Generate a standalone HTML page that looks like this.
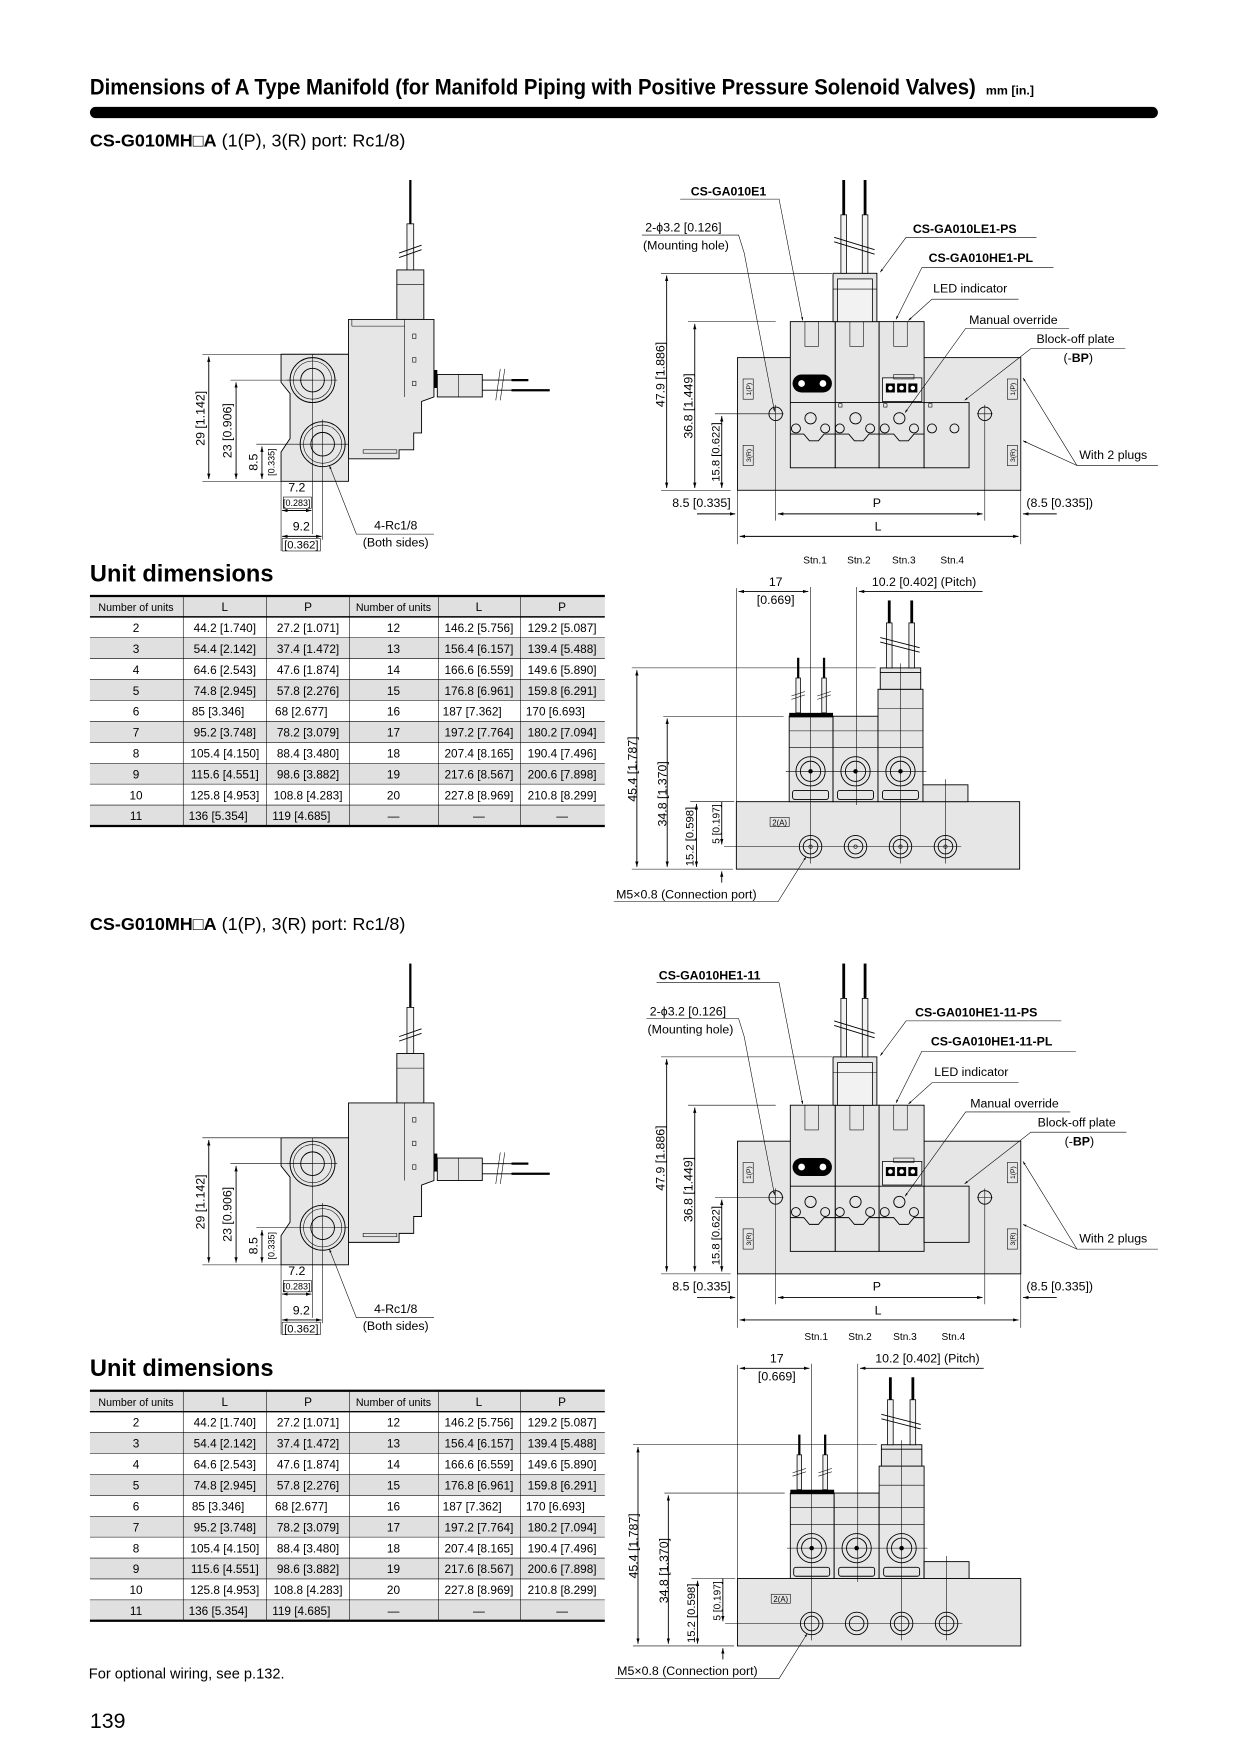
<!DOCTYPE html>
<html><head><meta charset="utf-8"><style>
html,body{margin:0;padding:0;background:#fff;}
svg{display:block;}
text{font-family:"Liberation Sans",sans-serif;fill:#000;}
.n{font-family:"Liberation Sans Narrow","Liberation Sans",sans-serif;}
.l{font-size:11px;}
.b{font-weight:bold;}
.ln{stroke:#000;stroke-width:0.8;fill:none;}
.th{stroke:#000;stroke-width:0.5;fill:none;}
.body{fill:#e6e6e6;stroke:#000;stroke-width:0.8;}
.wh{fill:#f2f2f2;stroke:#000;stroke-width:0.7;}
</style></head><body>
<svg width="1240" height="1754" viewBox="0 0 1103 1560" xmlns="http://www.w3.org/2000/svg">
<defs>
<marker id="a" viewBox="0 0 10 10" refX="10" refY="5" markerWidth="6" markerHeight="6" orient="auto-start-reverse"><path d="M0,2 L10,5 L0,8 z" fill="#000"/></marker>
</defs>

<text x="80" y="84" class="n b" font-size="20" textLength="788" lengthAdjust="spacingAndGlyphs">Dimensions of A Type Manifold (for Manifold Piping with Positive Pressure Solenoid Valves)</text>
<text x="877" y="84" class="n b" font-size="11">mm [in.]</text>
<rect x="80" y="95" width="950" height="10" rx="5" fill="#000"/>

<g id="top">
<text x="80" y="130" font-size="16"><tspan class="b">CS-G010MH</tspan><tspan class="b">□A</tspan> (1(P), 3(R) port: Rc1/8)</text>

<g>
<line x1="365" y1="160" x2="365" y2="199" stroke="#000" stroke-width="2"/>
<rect x="362" y="199" width="6" height="41" class="wh"/>
<line x1="355" y1="225" x2="375" y2="218" class="ln"/><line x1="355" y1="229" x2="375" y2="222" class="ln"/>
<rect x="353" y="240" width="24" height="44" class="body"/>
<line x1="353" y1="253" x2="377" y2="253" class="th"/>
<polygon points="310,284 386,284 386,353 375,357 375,385 368,385 368,400 355,400 355,408 310,408" class="body"/>
<line x1="313" y1="284" x2="313" y2="290" class="th"/><line x1="313" y1="290" x2="360" y2="290" class="th"/>
<line x1="360" y1="284" x2="360" y2="353" class="th"/>
<rect x="367" y="297" width="3" height="4" class="th"/><rect x="367" y="318" width="3" height="4" class="th"/><rect x="367" y="339" width="3" height="4" class="th"/>
<rect x="323" y="400" width="30" height="3" class="th"/>
<polygon points="250,315 310,315 310,428 250,428 250,402 258,390 258,350 250,340" class="body"/>
<circle cx="278" cy="338" r="20" class="ln"/><circle cx="278" cy="338" r="17" class="th"/><circle cx="278" cy="338" r="10.5" class="ln"/>
<circle cx="287" cy="395" r="20" class="ln"/><circle cx="287" cy="395" r="17" class="th"/><circle cx="287" cy="395" r="10.5" class="ln"/>
<line x1="255" y1="338" x2="300" y2="338" class="th"/><line x1="278" y1="315" x2="278" y2="475" class="th"/>
<line x1="262" y1="395" x2="310" y2="395" class="th"/><line x1="287" y1="373" x2="287" y2="480" class="th"/>
<rect x="386" y="329" width="3" height="16" fill="#000"/>
<rect x="389" y="333" width="40" height="20" class="body"/>
<line x1="408" y1="333" x2="408" y2="353" class="th"/>
<line x1="429" y1="338" x2="455" y2="338" class="ln"/><line x1="429" y1="347" x2="455" y2="347" class="ln"/>
<line x1="455" y1="338" x2="470" y2="338" stroke="#000" stroke-width="2"/><line x1="455" y1="347" x2="489" y2="347" stroke="#000" stroke-width="2"/>
<line x1="445" y1="328" x2="441" y2="356" class="th"/><line x1="449" y1="328" x2="445" y2="356" class="th"/>
<line x1="180" y1="315" x2="250" y2="315" class="th"/><line x1="180" y1="428" x2="250" y2="428" class="th"/>
<line x1="205" y1="338" x2="278" y2="338" class="th"/><line x1="228" y1="395" x2="262" y2="395" class="th"/>
<line x1="185.7" y1="317" x2="185.7" y2="426" class="ln" marker-start="url(#a)" marker-end="url(#a)"/>
<line x1="210" y1="340" x2="210" y2="426" class="ln" marker-start="url(#a)" marker-end="url(#a)"/>
<line x1="233" y1="397" x2="233" y2="426" class="ln" marker-start="url(#a)" marker-end="url(#a)"/>
<text transform="translate(182,372) rotate(-90)" text-anchor="middle" class="l">29 [1.142]</text>
<text transform="translate(206,383) rotate(-90)" text-anchor="middle" class="l">23 [0.906]</text>
<text transform="translate(229,411) rotate(-90)" text-anchor="middle" class="l">8.5</text>
<text transform="translate(244,411) rotate(-90)" text-anchor="middle" class="n" font-size="8">[0.335]</text>
<line x1="250" y1="428" x2="250" y2="490" class="th"/>
<line x1="251" y1="454" x2="277" y2="454" class="ln" marker-start="url(#a)" marker-end="url(#a)"/>
<line x1="251" y1="477" x2="286" y2="477" class="ln" marker-start="url(#a)" marker-end="url(#a)"/>
<text x="264" y="437" text-anchor="middle" class="l">7.2</text>
<text x="264" y="450" text-anchor="middle" class="n" font-size="8">[0.283]</text>
<rect x="252" y="442" width="25" height="10" class="th"/>
<text x="268" y="472" text-anchor="middle" class="l">9.2</text>
<text x="268" y="488" text-anchor="middle" class="n" font-size="10">[0.362]</text>
<rect x="251" y="479" width="34" height="11" class="th"/>
<text x="352" y="471" text-anchor="middle" class="l">4-Rc1/8</text>
<text x="352" y="486" text-anchor="middle" class="l">(Both sides)</text>
<polyline points="386,475 317,475 293,414" class="th" marker-end="url(#a)"/>
</g>

<g>
<rect x="656" y="318" width="252" height="118" class="body"/>
<rect x="661" y="337" width="9" height="18" class="th"/><text transform="translate(668,346) rotate(-90)" text-anchor="middle" font-size="6">1(P)</text>
<rect x="661" y="396" width="9" height="18" class="th"/><text transform="translate(668,405) rotate(-90)" text-anchor="middle" font-size="6">3(R)</text>
<rect x="896" y="337" width="9" height="18" class="th"/><text transform="translate(903,346) rotate(-90)" text-anchor="middle" font-size="6">1(P)</text>
<rect x="896" y="396" width="9" height="18" class="th"/><text transform="translate(903,405) rotate(-90)" text-anchor="middle" font-size="6">3(R)</text>
<rect x="703" y="286" width="40" height="130" class="body"/>
<rect x="743" y="286" width="39" height="130" class="body"/>
<rect x="782" y="286" width="40" height="130" class="body"/>
<rect x="822" y="358" width="40" height="58" class="body"/>
<line x1="703" y1="358" x2="822" y2="358" class="ln"/>
<rect x="716" y="286" width="12" height="22" class="th"/><rect x="756" y="286" width="12" height="22" class="th"/><rect x="795" y="286" width="12" height="22" class="th"/>
<rect x="705" y="333" width="35" height="16" rx="8" fill="#000"/>
<circle cx="713" cy="341" r="3" fill="#fff"/><circle cx="732" cy="341" r="3" fill="#fff"/>
<rect x="785" y="336" width="35" height="21" class="wh"/>
<rect x="795" y="333" width="18" height="4" class="th"/>
<rect x="788" y="341" width="8" height="8" fill="#000"/><rect x="798" y="341" width="8" height="8" fill="#000"/><rect x="808" y="341" width="8" height="8" fill="#000"/>
<circle cx="792" cy="345" r="2" fill="#fff"/><circle cx="802" cy="345" r="2" fill="#fff"/><circle cx="812" cy="345" r="2" fill="#fff"/>
<g class="ln">
<circle cx="721" cy="372" r="5"/><circle cx="761" cy="372" r="5"/><circle cx="800" cy="372" r="5"/>
<circle cx="708" cy="381" r="4"/><circle cx="734" cy="381" r="4"/><circle cx="747" cy="381" r="4"/><circle cx="774" cy="381" r="4"/><circle cx="787" cy="381" r="4"/><circle cx="813" cy="381" r="4"/><circle cx="829" cy="381" r="4"/><circle cx="849" cy="381" r="4"/>
<path d="M703,386 L715,386 L720,392 L728,392 L733,386 L755,386 L760,392 L768,392 L773,386 L795,386 L800,392 L808,392 L813,386 L822,386"/>
</g>
<rect x="746" y="359" width="3" height="3" class="th"/><rect x="786" y="359" width="3" height="3" class="th"/><rect x="826" y="359" width="3" height="3" class="th"/>
<rect x="741" y="243" width="39" height="43" class="body"/>
<rect x="745" y="248" width="31" height="38" class="wh"/>
<line x1="741" y1="257" x2="780" y2="257" class="th"/>
<rect x="748" y="191" width="5" height="52" class="wh"/><rect x="767" y="191" width="5" height="52" class="wh"/>
<line x1="750.5" y1="160" x2="750.5" y2="191" stroke="#000" stroke-width="2.5"/><line x1="769.5" y1="160" x2="769.5" y2="191" stroke="#000" stroke-width="2.5"/>
<line x1="742" y1="211" x2="778" y2="222" class="ln"/><line x1="742" y1="215" x2="778" y2="226" class="ln"/>
<circle cx="690" cy="368" r="6" class="ln"/><circle cx="876" cy="368" r="6" class="ln"/>
<line x1="636" y1="368" x2="697" y2="368" class="th"/><line x1="869" y1="368" x2="883" y2="368" class="th"/>
<line x1="690" y1="360" x2="690" y2="463" class="th"/><line x1="876" y1="360" x2="876" y2="463" class="th"/>
<line x1="656" y1="436" x2="656" y2="484" class="th"/><line x1="908" y1="436" x2="908" y2="484" class="th"/>
<line x1="588" y1="243" x2="740" y2="243" class="th"/>
<line x1="612" y1="286" x2="690" y2="286" class="th"/>
<line x1="588" y1="436" x2="650" y2="436" class="th"/>
<line x1="593" y1="245" x2="593" y2="434" class="ln" marker-start="url(#a)" marker-end="url(#a)"/>
<line x1="618" y1="288" x2="618" y2="434" class="ln" marker-start="url(#a)" marker-end="url(#a)"/>
<line x1="642" y1="370" x2="642" y2="434" class="ln" marker-start="url(#a)" marker-end="url(#a)"/>
<text transform="translate(591,333) rotate(-90)" text-anchor="middle" class="l">47.9 [1.886]</text>
<text transform="translate(616,361) rotate(-90)" text-anchor="middle" class="l">36.8 [1.449]</text>
<text transform="translate(640,402) rotate(-90)" text-anchor="middle" class="n" font-size="10">15.8 [0.622]</text>
<line x1="620" y1="457" x2="654" y2="457" class="ln" marker-end="url(#a)"/>
<line x1="692" y1="457" x2="874" y2="457" class="ln" marker-start="url(#a)" marker-end="url(#a)"/>
<line x1="940" y1="457" x2="910" y2="457" class="ln" marker-end="url(#a)"/>
<line x1="658" y1="477" x2="906" y2="477" class="ln" marker-start="url(#a)" marker-end="url(#a)"/>
<text x="598" y="451" class="l">8.5 [0.335]</text>
<text x="780" y="451" text-anchor="middle" class="l">P</text>
<text x="913" y="451" class="l">(8.5 [0.335])</text>
<text x="781" y="472" text-anchor="middle" class="l">L</text>
<text x="648" y="174" text-anchor="middle" class="l b" font-size="11">CS-GA010E1</text>
<polyline points="605,177 693,177 714,285" class="th" marker-end="url(#a)"/>
<text x="574" y="206" class="l">2-ϕ3.2 [0.126]</text>
<text x="572" y="222" class="l">(Mounting hole)</text>
<polyline points="571,209 657,209 662,225 689,366" class="th" marker-end="url(#a)"/>
<text x="812" y="207" class="l b">CS-GA010LE1-PS</text>
<polyline points="922,211 806,211 783,242" class="th" marker-end="url(#a)"/>
<text x="826" y="233" class="l b">CS-GA010HE1-PL</text>
<polyline points="937,238 820,238 797,284" class="th" marker-end="url(#a)"/>
<text x="830" y="260" class="l">LED indicator</text>
<polyline points="906,266 829,266 808,285" class="th" marker-end="url(#a)"/>
<text x="862" y="288" class="l">Manual override</text>
<polyline points="951,292 859,292 805,367" class="th" marker-end="url(#a)"/>
<text x="922" y="305" class="l">Block-off plate</text>
<text x="946" y="322" class="l">(-<tspan class="b">BP</tspan>)</text>
<polyline points="1001,310 917,310 858,356" class="th" marker-end="url(#a)"/>
<text x="960" y="408" class="l">With 2 plugs</text>
<polyline points="1030,414 958,414 910,336" class="th" marker-end="url(#a)"/>
<line x1="958" y1="414" x2="910" y2="392" class="th" marker-end="url(#a)"/>
</g>

<g>
<text x="725" y="501" text-anchor="middle" class="n" font-size="9">Stn.1</text>
<text x="764" y="501" text-anchor="middle" class="n" font-size="9">Stn.2</text>
<text x="804" y="501" text-anchor="middle" class="n" font-size="9">Stn.3</text>
<text x="847" y="501" text-anchor="middle" class="n" font-size="9">Stn.4</text>
<rect x="655" y="713" width="252" height="60" class="body"/>
<rect x="702" y="637" width="39" height="76" class="body"/>
<rect x="741" y="637" width="40" height="76" class="body"/>
<rect x="781" y="613" width="40" height="100" class="body"/>
<rect x="783" y="594" width="36" height="19" class="body"/>
<line x1="783" y1="598" x2="819" y2="598" class="ln"/>
<rect x="821" y="698" width="40" height="15" class="body"/>
<rect x="702" y="634" width="39" height="4" fill="#000"/>
<line x1="702" y1="650" x2="821" y2="650" class="th"/><line x1="702" y1="665" x2="821" y2="665" class="th"/>
<line x1="781" y1="630" x2="821" y2="630" class="th"/>
<g class="ln">
<circle cx="721" cy="686" r="13"/><circle cx="721" cy="686" r="9"/><circle cx="761" cy="686" r="13"/><circle cx="761" cy="686" r="9"/><circle cx="801" cy="686" r="13"/><circle cx="801" cy="686" r="9"/>
<rect x="705" y="703" width="32" height="8" rx="2"/><rect x="745" y="703" width="32" height="8" rx="2"/><rect x="785" y="703" width="32" height="8" rx="2"/>
<circle cx="721" cy="753" r="10"/><circle cx="721" cy="753" r="6.5"/><circle cx="761" cy="753" r="10"/><circle cx="761" cy="753" r="6.5"/><circle cx="801" cy="753" r="10"/><circle cx="801" cy="753" r="6.5"/><circle cx="841" cy="753" r="10"/><circle cx="841" cy="753" r="6.5"/>
</g>
<circle cx="721" cy="686" r="2" fill="#000"/><circle cx="761" cy="686" r="2" fill="#000"/><circle cx="801" cy="686" r="2" fill="#000"/>
<circle cx="721" cy="753" r="1.5" class="th"/><circle cx="761" cy="753" r="1.5" class="th"/><circle cx="801" cy="753" r="1.5" class="th"/><circle cx="841" cy="753" r="1.5" class="th"/>
<rect x="685" y="727" width="17" height="8" class="th"/><text x="693.5" y="734" text-anchor="middle" font-size="7">2(A)</text>
<rect x="708" y="603" width="4" height="31" class="wh"/><rect x="731" y="603" width="4" height="31" class="wh"/>
<line x1="710" y1="585" x2="710" y2="603" stroke="#000" stroke-width="2"/><line x1="733" y1="585" x2="733" y2="603" stroke="#000" stroke-width="2"/>
<line x1="704" y1="619" x2="716" y2="615" class="th"/><line x1="704" y1="622" x2="716" y2="618" class="th"/>
<line x1="727" y1="619" x2="739" y2="615" class="th"/><line x1="727" y1="622" x2="739" y2="618" class="th"/>
<rect x="788.5" y="554" width="5" height="40" class="wh"/><rect x="808.5" y="554" width="5" height="40" class="wh"/>
<line x1="791" y1="534" x2="791" y2="554" stroke="#000" stroke-width="2.5"/><line x1="811" y1="534" x2="811" y2="554" stroke="#000" stroke-width="2.5"/>
<line x1="783" y1="567" x2="818" y2="576" class="ln"/><line x1="783" y1="571" x2="818" y2="580" class="ln"/>
<line x1="721" y1="522" x2="721" y2="768" class="th"/><line x1="762" y1="522" x2="762" y2="716" class="th"/><line x1="801" y1="590" x2="801" y2="768" class="th"/><line x1="841" y1="693" x2="841" y2="768" class="th"/>
<line x1="699" y1="686" x2="824" y2="686" class="th"/><line x1="644" y1="753" x2="855" y2="753" class="th"/>
<line x1="655" y1="523" x2="655" y2="713" class="th"/>
<line x1="657" y1="526" x2="719" y2="526" class="ln" marker-start="url(#a)" marker-end="url(#a)"/>
<line x1="874" y1="526" x2="764" y2="526" class="ln" marker-end="url(#a)"/>
<text x="690" y="521" text-anchor="middle" class="l">17</text>
<text x="690" y="537" text-anchor="middle" class="l">[0.669]</text>
<text x="822" y="521" text-anchor="middle" class="l">10.2 [0.402] (Pitch)</text>
<line x1="562" y1="594" x2="779" y2="594" class="th"/>
<line x1="590" y1="637" x2="697" y2="637" class="th"/>
<line x1="614" y1="713" x2="653" y2="713" class="th"/>
<line x1="562" y1="773" x2="652" y2="773" class="th"/>
<line x1="566.5" y1="596" x2="566.5" y2="771" class="ln" marker-start="url(#a)" marker-end="url(#a)"/>
<line x1="593.5" y1="639" x2="593.5" y2="771" class="ln" marker-start="url(#a)" marker-end="url(#a)"/>
<line x1="619.5" y1="715" x2="619.5" y2="771" class="ln" marker-start="url(#a)" marker-end="url(#a)"/>
<line x1="642" y1="713" x2="642" y2="751" class="ln" marker-end="url(#a)"/>
<line x1="642" y1="785" x2="642" y2="775" class="ln" marker-end="url(#a)"/>
<text transform="translate(566,684) rotate(-90)" text-anchor="middle" class="l">45.4 [1.787]</text>
<text transform="translate(593,706) rotate(-90)" text-anchor="middle" class="l">34.8 [1.370]</text>
<text transform="translate(617,744) rotate(-90)" text-anchor="middle" class="n" font-size="10">15.2 [0.598]</text>
<text transform="translate(640,733) rotate(-90)" text-anchor="middle" class="n" font-size="9">5 [0.197]</text>
<text x="548" y="799" class="l">M5×0.8 (Connection port)</text>
<polyline points="546,802 692,802 717,762" class="th" marker-end="url(#a)"/>
</g>
</g>

<g id="tab1">
<text x="80" y="517" class="b" font-size="21">Unit dimensions</text>
<rect x="80" y="530" width="458" height="18.6" fill="#e0e0e0"/>
<rect x="80" y="567.2" width="458" height="18.6" fill="#e0e0e0"/>
<rect x="80" y="604.4" width="458" height="18.6" fill="#e0e0e0"/>
<rect x="80" y="641.6" width="458" height="18.6" fill="#e0e0e0"/>
<rect x="80" y="678.8" width="458" height="18.6" fill="#e0e0e0"/>
<rect x="80" y="716" width="458" height="18.6" fill="#e0e0e0"/>
<g class="th" stroke-width="0.6">
<line x1="80" y1="567.2" x2="538" y2="567.2"/><line x1="80" y1="585.8" x2="538" y2="585.8"/><line x1="80" y1="604.4" x2="538" y2="604.4"/><line x1="80" y1="623" x2="538" y2="623"/><line x1="80" y1="641.6" x2="538" y2="641.6"/><line x1="80" y1="660.2" x2="538" y2="660.2"/><line x1="80" y1="678.8" x2="538" y2="678.8"/><line x1="80" y1="697.4" x2="538" y2="697.4"/><line x1="80" y1="716" x2="538" y2="716"/>
<line x1="163" y1="530" x2="163" y2="734.6"/><line x1="237" y1="530" x2="237" y2="734.6"/><line x1="311" y1="530" x2="311" y2="734.6"/><line x1="390" y1="530" x2="390" y2="734.6"/><line x1="463" y1="530" x2="463" y2="734.6"/>
</g>
<line x1="80" y1="530" x2="538" y2="530" stroke="#000" stroke-width="2"/>
<line x1="80" y1="548.6" x2="538" y2="548.6" stroke="#000" stroke-width="1.3"/>
<line x1="80" y1="734.6" x2="538" y2="734.6" stroke="#000" stroke-width="2"/>
<g class="n" font-size="10.5" text-anchor="middle">
<text x="121" y="543.5" font-size="9.5">Number of units</text><text x="200" y="543.5">L</text><text x="274" y="543.5">P</text><text x="350" y="543.5" font-size="9.5">Number of units</text><text x="426" y="543.5">L</text><text x="500" y="543.5">P</text>
<text x="121" y="562">2</text><text x="200" y="562">44.2 [1.740]</text><text x="274" y="562">27.2 [1.071]</text><text x="350" y="562">12</text><text x="426" y="562">146.2 [5.756]</text><text x="500" y="562">129.2 [5.087]</text>
<text x="121" y="580.7">3</text><text x="200" y="580.7">54.4 [2.142]</text><text x="274" y="580.7">37.4 [1.472]</text><text x="350" y="580.7">13</text><text x="426" y="580.7">156.4 [6.157]</text><text x="500" y="580.7">139.4 [5.488]</text>
<text x="121" y="599.3">4</text><text x="200" y="599.3">64.6 [2.543]</text><text x="274" y="599.3">47.6 [1.874]</text><text x="350" y="599.3">14</text><text x="426" y="599.3">166.6 [6.559]</text><text x="500" y="599.3">149.6 [5.890]</text>
<text x="121" y="617.9">5</text><text x="200" y="617.9">74.8 [2.945]</text><text x="274" y="617.9">57.8 [2.276]</text><text x="350" y="617.9">15</text><text x="426" y="617.9">176.8 [6.961]</text><text x="500" y="617.9">159.8 [6.291]</text>
<text x="121" y="636.5">6</text><text x="194" y="636.5">85 [3.346]</text><text x="268" y="636.5">68 [2.677]</text><text x="350" y="636.5">16</text><text x="420" y="636.5">187 [7.362]</text><text x="494" y="636.5">170 [6.693]</text>
<text x="121" y="655.1">7</text><text x="200" y="655.1">95.2 [3.748]</text><text x="274" y="655.1">78.2 [3.079]</text><text x="350" y="655.1">17</text><text x="426" y="655.1">197.2 [7.764]</text><text x="500" y="655.1">180.2 [7.094]</text>
<text x="121" y="673.7">8</text><text x="200" y="673.7">105.4 [4.150]</text><text x="274" y="673.7">88.4 [3.480]</text><text x="350" y="673.7">18</text><text x="426" y="673.7">207.4 [8.165]</text><text x="500" y="673.7">190.4 [7.496]</text>
<text x="121" y="692.3">9</text><text x="200" y="692.3">115.6 [4.551]</text><text x="274" y="692.3">98.6 [3.882]</text><text x="350" y="692.3">19</text><text x="426" y="692.3">217.6 [8.567]</text><text x="500" y="692.3">200.6 [7.898]</text>
<text x="121" y="710.9">10</text><text x="200" y="710.9">125.8 [4.953]</text><text x="274" y="710.9">108.8 [4.283]</text><text x="350" y="710.9">20</text><text x="426" y="710.9">227.8 [8.969]</text><text x="500" y="710.9">210.8 [8.299]</text>
<text x="121" y="729.5">11</text><text x="194" y="729.5">136 [5.354]</text><text x="268" y="729.5">119 [4.685]</text><text x="350" y="729.5">—</text><text x="426" y="729.5">—</text><text x="500" y="729.5">—</text>
</g>
</g>

<g transform="translate(0,697)">
<text x="80" y="130" font-size="16"><tspan class="b">CS-G010MH□A</tspan> (1(P), 3(R) port: Rc1/8)</text>
<g>
<line x1="365" y1="160" x2="365" y2="199" stroke="#000" stroke-width="2"/>
<rect x="362" y="199" width="6" height="41" class="wh"/>
<line x1="355" y1="225" x2="375" y2="218" class="ln"/><line x1="355" y1="229" x2="375" y2="222" class="ln"/>
<rect x="353" y="240" width="24" height="44" class="body"/>
<line x1="353" y1="253" x2="377" y2="253" class="th"/>
<polygon points="310,284 386,284 386,353 375,357 375,385 368,385 368,400 355,400 355,408 310,408" class="body"/>
<line x1="360" y1="284" x2="360" y2="353" class="th"/>
<rect x="367" y="297" width="3" height="4" class="th"/><rect x="367" y="318" width="3" height="4" class="th"/><rect x="367" y="339" width="3" height="4" class="th"/>
<rect x="323" y="400" width="30" height="3" class="th"/>
<polygon points="250,315 310,315 310,428 250,428 250,402 258,390 258,350 250,340" class="body"/>
<circle cx="278" cy="338" r="20" class="ln"/><circle cx="278" cy="338" r="17" class="th"/><circle cx="278" cy="338" r="10.5" class="ln"/>
<circle cx="287" cy="395" r="20" class="ln"/><circle cx="287" cy="395" r="17" class="th"/><circle cx="287" cy="395" r="10.5" class="ln"/>
<line x1="255" y1="338" x2="300" y2="338" class="th"/><line x1="278" y1="315" x2="278" y2="475" class="th"/>
<line x1="262" y1="395" x2="310" y2="395" class="th"/><line x1="287" y1="373" x2="287" y2="480" class="th"/>
<rect x="386" y="329" width="3" height="16" fill="#000"/>
<rect x="389" y="333" width="40" height="20" class="body"/>
<line x1="408" y1="333" x2="408" y2="353" class="th"/>
<line x1="429" y1="338" x2="455" y2="338" class="ln"/><line x1="429" y1="347" x2="455" y2="347" class="ln"/>
<line x1="455" y1="338" x2="470" y2="338" stroke="#000" stroke-width="2"/><line x1="455" y1="347" x2="489" y2="347" stroke="#000" stroke-width="2"/>
<line x1="445" y1="328" x2="441" y2="356" class="th"/><line x1="449" y1="328" x2="445" y2="356" class="th"/>
<line x1="180" y1="315" x2="250" y2="315" class="th"/><line x1="180" y1="428" x2="250" y2="428" class="th"/>
<line x1="205" y1="338" x2="278" y2="338" class="th"/><line x1="228" y1="395" x2="262" y2="395" class="th"/>
<line x1="185.7" y1="317" x2="185.7" y2="426" class="ln" marker-start="url(#a)" marker-end="url(#a)"/>
<line x1="210" y1="340" x2="210" y2="426" class="ln" marker-start="url(#a)" marker-end="url(#a)"/>
<line x1="233" y1="397" x2="233" y2="426" class="ln" marker-start="url(#a)" marker-end="url(#a)"/>
<text transform="translate(182,372) rotate(-90)" text-anchor="middle" class="l">29 [1.142]</text>
<text transform="translate(206,383) rotate(-90)" text-anchor="middle" class="l">23 [0.906]</text>
<text transform="translate(229,411) rotate(-90)" text-anchor="middle" class="l">8.5</text>
<text transform="translate(244,411) rotate(-90)" text-anchor="middle" class="n" font-size="8">[0.335]</text>
<line x1="250" y1="428" x2="250" y2="490" class="th"/>
<line x1="251" y1="454" x2="277" y2="454" class="ln" marker-start="url(#a)" marker-end="url(#a)"/>
<line x1="251" y1="477" x2="286" y2="477" class="ln" marker-start="url(#a)" marker-end="url(#a)"/>
<text x="264" y="437" text-anchor="middle" class="l">7.2</text>
<text x="264" y="450" text-anchor="middle" class="n" font-size="8">[0.283]</text>
<rect x="252" y="442" width="25" height="10" class="th"/>
<text x="268" y="472" text-anchor="middle" class="l">9.2</text>
<text x="268" y="488" text-anchor="middle" class="n" font-size="10">[0.362]</text>
<rect x="251" y="479" width="34" height="11" class="th"/>
<text x="352" y="471" text-anchor="middle" class="l">4-Rc1/8</text>
<text x="352" y="486" text-anchor="middle" class="l">(Both sides)</text>
<polyline points="386,475 317,475 293,414" class="th" marker-end="url(#a)"/>
</g>
<g>
<rect x="656" y="318" width="252" height="118" class="body"/>
<rect x="661" y="337" width="9" height="18" class="th"/><text transform="translate(668,346) rotate(-90)" text-anchor="middle" font-size="6">1(P)</text>
<rect x="661" y="396" width="9" height="18" class="th"/><text transform="translate(668,405) rotate(-90)" text-anchor="middle" font-size="6">3(R)</text>
<rect x="896" y="337" width="9" height="18" class="th"/><text transform="translate(903,346) rotate(-90)" text-anchor="middle" font-size="6">1(P)</text>
<rect x="896" y="396" width="9" height="18" class="th"/><text transform="translate(903,405) rotate(-90)" text-anchor="middle" font-size="6">3(R)</text>
<rect x="703" y="286" width="40" height="130" class="body"/>
<rect x="743" y="286" width="39" height="130" class="body"/>
<rect x="782" y="286" width="40" height="130" class="body"/>
<rect x="822" y="358" width="40" height="50" class="body"/>
<line x1="703" y1="358" x2="822" y2="358" class="ln"/>
<rect x="716" y="286" width="12" height="22" class="th"/><rect x="756" y="286" width="12" height="22" class="th"/><rect x="795" y="286" width="12" height="22" class="th"/>
<rect x="705" y="333" width="35" height="16" rx="8" fill="#000"/>
<circle cx="713" cy="341" r="3" fill="#fff"/><circle cx="732" cy="341" r="3" fill="#fff"/>
<rect x="785" y="336" width="35" height="21" class="wh"/>
<rect x="795" y="333" width="18" height="4" class="th"/>
<rect x="788" y="341" width="8" height="8" fill="#000"/><rect x="798" y="341" width="8" height="8" fill="#000"/><rect x="808" y="341" width="8" height="8" fill="#000"/>
<circle cx="792" cy="345" r="2" fill="#fff"/><circle cx="802" cy="345" r="2" fill="#fff"/><circle cx="812" cy="345" r="2" fill="#fff"/>
<g class="ln">
<circle cx="721" cy="372" r="5"/><circle cx="761" cy="372" r="5"/><circle cx="800" cy="372" r="5"/>
<circle cx="708" cy="381" r="4"/><circle cx="734" cy="381" r="4"/><circle cx="747" cy="381" r="4"/><circle cx="774" cy="381" r="4"/><circle cx="787" cy="381" r="4"/><circle cx="813" cy="381" r="4"/>
<path d="M703,386 L715,386 L720,392 L728,392 L733,386 L755,386 L760,392 L768,392 L773,386 L795,386 L800,392 L808,392 L813,386 L822,386"/>
</g>
<rect x="741" y="243" width="39" height="43" class="body"/>
<rect x="745" y="248" width="31" height="38" class="wh"/>
<line x1="741" y1="257" x2="780" y2="257" class="th"/>
<rect x="748" y="191" width="5" height="52" class="wh"/><rect x="767" y="191" width="5" height="52" class="wh"/>
<line x1="750.5" y1="160" x2="750.5" y2="191" stroke="#000" stroke-width="2.5"/><line x1="769.5" y1="160" x2="769.5" y2="191" stroke="#000" stroke-width="2.5"/>
<line x1="742" y1="211" x2="778" y2="222" class="ln"/><line x1="742" y1="215" x2="778" y2="226" class="ln"/>
<circle cx="690" cy="368" r="6" class="ln"/><circle cx="876" cy="368" r="6" class="ln"/>
<line x1="636" y1="368" x2="697" y2="368" class="th"/><line x1="869" y1="368" x2="883" y2="368" class="th"/>
<line x1="690" y1="360" x2="690" y2="463" class="th"/><line x1="876" y1="360" x2="876" y2="463" class="th"/>
<line x1="656" y1="436" x2="656" y2="484" class="th"/><line x1="908" y1="436" x2="908" y2="484" class="th"/>
<line x1="588" y1="243" x2="740" y2="243" class="th"/>
<line x1="612" y1="286" x2="690" y2="286" class="th"/>
<line x1="588" y1="436" x2="650" y2="436" class="th"/>
<line x1="593" y1="245" x2="593" y2="434" class="ln" marker-start="url(#a)" marker-end="url(#a)"/>
<line x1="618" y1="288" x2="618" y2="434" class="ln" marker-start="url(#a)" marker-end="url(#a)"/>
<line x1="642" y1="370" x2="642" y2="434" class="ln" marker-start="url(#a)" marker-end="url(#a)"/>
<text transform="translate(591,333) rotate(-90)" text-anchor="middle" class="l">47.9 [1.886]</text>
<text transform="translate(616,361) rotate(-90)" text-anchor="middle" class="l">36.8 [1.449]</text>
<text transform="translate(640,402) rotate(-90)" text-anchor="middle" class="n" font-size="10">15.8 [0.622]</text>
<line x1="620" y1="457" x2="654" y2="457" class="ln" marker-end="url(#a)"/>
<line x1="692" y1="457" x2="874" y2="457" class="ln" marker-start="url(#a)" marker-end="url(#a)"/>
<line x1="940" y1="457" x2="910" y2="457" class="ln" marker-end="url(#a)"/>
<line x1="658" y1="477" x2="906" y2="477" class="ln" marker-start="url(#a)" marker-end="url(#a)"/>
<text x="598" y="451" class="l">8.5 [0.335]</text>
<text x="780" y="451" text-anchor="middle" class="l">P</text>
<text x="913" y="451" class="l">(8.5 [0.335])</text>
<text x="781" y="472" text-anchor="middle" class="l">L</text>
<text x="586" y="174" class="l b">CS-GA010HE1-11</text>
<polyline points="584,177 693,177 714,285" class="th" marker-end="url(#a)"/>
<text x="578" y="206" class="l">2-ϕ3.2 [0.126]</text>
<text x="576" y="222" class="l">(Mounting hole)</text>
<polyline points="575,209 657,209 662,225 689,366" class="th" marker-end="url(#a)"/>
<text x="814" y="207" class="l b">CS-GA010HE1-11-PS</text>
<polyline points="944,211 806,211 783,242" class="th" marker-end="url(#a)"/>
<text x="828" y="233" class="l b">CS-GA010HE1-11-PL</text>
<polyline points="957,238 820,238 797,284" class="th" marker-end="url(#a)"/>
<text x="831" y="260" class="l">LED indicator</text>
<polyline points="906,266 829,266 808,285" class="th" marker-end="url(#a)"/>
<text x="863" y="288" class="l">Manual override</text>
<polyline points="952,292 859,292 805,367" class="th" marker-end="url(#a)"/>
<text x="923" y="305" class="l">Block-off plate</text>
<text x="947" y="322" class="l">(-<tspan class="b">BP</tspan>)</text>
<polyline points="1002,310 917,310 858,356" class="th" marker-end="url(#a)"/>
<text x="960" y="408" class="l">With 2 plugs</text>
<polyline points="1030,414 958,414 910,336" class="th" marker-end="url(#a)"/>
<line x1="958" y1="414" x2="910" y2="392" class="th" marker-end="url(#a)"/>
</g>
</g>

<g transform="translate(1,691)">
<text x="725" y="501" text-anchor="middle" class="n" font-size="9">Stn.1</text>
<text x="764" y="501" text-anchor="middle" class="n" font-size="9">Stn.2</text>
<text x="804" y="501" text-anchor="middle" class="n" font-size="9">Stn.3</text>
<text x="847" y="501" text-anchor="middle" class="n" font-size="9">Stn.4</text>
<rect x="655" y="713" width="252" height="60" class="body"/>
<rect x="702" y="637" width="39" height="76" class="body"/>
<rect x="741" y="637" width="40" height="76" class="body"/>
<rect x="781" y="613" width="40" height="100" class="body"/>
<rect x="783" y="594" width="36" height="19" class="body"/>
<line x1="783" y1="598" x2="819" y2="598" class="ln"/>
<rect x="821" y="698" width="40" height="15" class="body"/>
<rect x="702" y="634" width="39" height="4" fill="#000"/>
<line x1="702" y1="650" x2="821" y2="650" class="th"/><line x1="702" y1="665" x2="821" y2="665" class="th"/>
<line x1="781" y1="630" x2="821" y2="630" class="th"/>
<g class="ln">
<circle cx="721" cy="686" r="13"/><circle cx="721" cy="686" r="9"/><circle cx="761" cy="686" r="13"/><circle cx="761" cy="686" r="9"/><circle cx="801" cy="686" r="13"/><circle cx="801" cy="686" r="9"/>
<rect x="705" y="703" width="32" height="8" rx="2"/><rect x="745" y="703" width="32" height="8" rx="2"/><rect x="785" y="703" width="32" height="8" rx="2"/>
<circle cx="721" cy="753" r="10"/><circle cx="721" cy="753" r="6.5"/><circle cx="761" cy="753" r="10"/><circle cx="761" cy="753" r="6.5"/><circle cx="801" cy="753" r="10"/><circle cx="801" cy="753" r="6.5"/><circle cx="841" cy="753" r="10"/><circle cx="841" cy="753" r="6.5"/>
</g>
<circle cx="721" cy="686" r="2" fill="#000"/><circle cx="761" cy="686" r="2" fill="#000"/><circle cx="801" cy="686" r="2" fill="#000"/>
<rect x="685" y="727" width="17" height="8" class="th"/><text x="693.5" y="734" text-anchor="middle" font-size="7">2(A)</text>
<rect x="708" y="603" width="4" height="31" class="wh"/><rect x="731" y="603" width="4" height="31" class="wh"/>
<line x1="710" y1="585" x2="710" y2="603" stroke="#000" stroke-width="2"/><line x1="733" y1="585" x2="733" y2="603" stroke="#000" stroke-width="2"/>
<line x1="704" y1="619" x2="716" y2="615" class="th"/><line x1="704" y1="622" x2="716" y2="618" class="th"/>
<line x1="727" y1="619" x2="739" y2="615" class="th"/><line x1="727" y1="622" x2="739" y2="618" class="th"/>
<rect x="788.5" y="554" width="5" height="40" class="wh"/><rect x="808.5" y="554" width="5" height="40" class="wh"/>
<line x1="791" y1="534" x2="791" y2="554" stroke="#000" stroke-width="2.5"/><line x1="811" y1="534" x2="811" y2="554" stroke="#000" stroke-width="2.5"/>
<line x1="783" y1="567" x2="818" y2="576" class="ln"/><line x1="783" y1="571" x2="818" y2="580" class="ln"/>
<line x1="721" y1="522" x2="721" y2="768" class="th"/><line x1="762" y1="522" x2="762" y2="716" class="th"/><line x1="801" y1="590" x2="801" y2="768" class="th"/><line x1="841" y1="693" x2="841" y2="768" class="th"/>
<line x1="699" y1="686" x2="824" y2="686" class="th"/><line x1="644" y1="753" x2="855" y2="753" class="th"/>
<line x1="655" y1="523" x2="655" y2="713" class="th"/>
<line x1="657" y1="526" x2="719" y2="526" class="ln" marker-start="url(#a)" marker-end="url(#a)"/>
<line x1="874" y1="526" x2="764" y2="526" class="ln" marker-end="url(#a)"/>
<text x="690" y="521" text-anchor="middle" class="l">17</text>
<text x="690" y="537" text-anchor="middle" class="l">[0.669]</text>
<text x="824" y="521" text-anchor="middle" class="l">10.2 [0.402] (Pitch)</text>
<line x1="562" y1="594" x2="779" y2="594" class="th"/>
<line x1="590" y1="637" x2="697" y2="637" class="th"/>
<line x1="614" y1="713" x2="653" y2="713" class="th"/>
<line x1="562" y1="773" x2="652" y2="773" class="th"/>
<line x1="566.5" y1="596" x2="566.5" y2="771" class="ln" marker-start="url(#a)" marker-end="url(#a)"/>
<line x1="593.5" y1="639" x2="593.5" y2="771" class="ln" marker-start="url(#a)" marker-end="url(#a)"/>
<line x1="619.5" y1="715" x2="619.5" y2="771" class="ln" marker-start="url(#a)" marker-end="url(#a)"/>
<line x1="642" y1="713" x2="642" y2="751" class="ln" marker-end="url(#a)"/>
<line x1="642" y1="785" x2="642" y2="775" class="ln" marker-end="url(#a)"/>
<text transform="translate(566,684) rotate(-90)" text-anchor="middle" class="l">45.4 [1.787]</text>
<text transform="translate(593,706) rotate(-90)" text-anchor="middle" class="l">34.8 [1.370]</text>
<text transform="translate(617,744) rotate(-90)" text-anchor="middle" class="n" font-size="10">15.2 [0.598]</text>
<text transform="translate(640,733) rotate(-90)" text-anchor="middle" class="n" font-size="9">5 [0.197]</text>
<text x="548" y="799" class="l">M5×0.8 (Connection port)</text>
<polyline points="546,802 692,802 717,762" class="th" marker-end="url(#a)"/>
</g>

<g transform="translate(0,707)">
<text x="80" y="517" class="b" font-size="21">Unit dimensions</text>
<rect x="80" y="530" width="458" height="18.6" fill="#e0e0e0"/>
<rect x="80" y="567.2" width="458" height="18.6" fill="#e0e0e0"/>
<rect x="80" y="604.4" width="458" height="18.6" fill="#e0e0e0"/>
<rect x="80" y="641.6" width="458" height="18.6" fill="#e0e0e0"/>
<rect x="80" y="678.8" width="458" height="18.6" fill="#e0e0e0"/>
<rect x="80" y="716" width="458" height="18.6" fill="#e0e0e0"/>
<g class="th" stroke-width="0.6">
<line x1="80" y1="567.2" x2="538" y2="567.2"/><line x1="80" y1="585.8" x2="538" y2="585.8"/><line x1="80" y1="604.4" x2="538" y2="604.4"/><line x1="80" y1="623" x2="538" y2="623"/><line x1="80" y1="641.6" x2="538" y2="641.6"/><line x1="80" y1="660.2" x2="538" y2="660.2"/><line x1="80" y1="678.8" x2="538" y2="678.8"/><line x1="80" y1="697.4" x2="538" y2="697.4"/><line x1="80" y1="716" x2="538" y2="716"/>
<line x1="163" y1="530" x2="163" y2="734.6"/><line x1="237" y1="530" x2="237" y2="734.6"/><line x1="311" y1="530" x2="311" y2="734.6"/><line x1="390" y1="530" x2="390" y2="734.6"/><line x1="463" y1="530" x2="463" y2="734.6"/>
</g>
<line x1="80" y1="530" x2="538" y2="530" stroke="#000" stroke-width="2"/>
<line x1="80" y1="548.6" x2="538" y2="548.6" stroke="#000" stroke-width="1.3"/>
<line x1="80" y1="734.6" x2="538" y2="734.6" stroke="#000" stroke-width="2"/>
<g class="n" font-size="10.5" text-anchor="middle">
<text x="121" y="543.5" font-size="9.5">Number of units</text><text x="200" y="543.5">L</text><text x="274" y="543.5">P</text><text x="350" y="543.5" font-size="9.5">Number of units</text><text x="426" y="543.5">L</text><text x="500" y="543.5">P</text>
<text x="121" y="562">2</text><text x="200" y="562">44.2 [1.740]</text><text x="274" y="562">27.2 [1.071]</text><text x="350" y="562">12</text><text x="426" y="562">146.2 [5.756]</text><text x="500" y="562">129.2 [5.087]</text>
<text x="121" y="580.7">3</text><text x="200" y="580.7">54.4 [2.142]</text><text x="274" y="580.7">37.4 [1.472]</text><text x="350" y="580.7">13</text><text x="426" y="580.7">156.4 [6.157]</text><text x="500" y="580.7">139.4 [5.488]</text>
<text x="121" y="599.3">4</text><text x="200" y="599.3">64.6 [2.543]</text><text x="274" y="599.3">47.6 [1.874]</text><text x="350" y="599.3">14</text><text x="426" y="599.3">166.6 [6.559]</text><text x="500" y="599.3">149.6 [5.890]</text>
<text x="121" y="617.9">5</text><text x="200" y="617.9">74.8 [2.945]</text><text x="274" y="617.9">57.8 [2.276]</text><text x="350" y="617.9">15</text><text x="426" y="617.9">176.8 [6.961]</text><text x="500" y="617.9">159.8 [6.291]</text>
<text x="121" y="636.5">6</text><text x="194" y="636.5">85 [3.346]</text><text x="268" y="636.5">68 [2.677]</text><text x="350" y="636.5">16</text><text x="420" y="636.5">187 [7.362]</text><text x="494" y="636.5">170 [6.693]</text>
<text x="121" y="655.1">7</text><text x="200" y="655.1">95.2 [3.748]</text><text x="274" y="655.1">78.2 [3.079]</text><text x="350" y="655.1">17</text><text x="426" y="655.1">197.2 [7.764]</text><text x="500" y="655.1">180.2 [7.094]</text>
<text x="121" y="673.7">8</text><text x="200" y="673.7">105.4 [4.150]</text><text x="274" y="673.7">88.4 [3.480]</text><text x="350" y="673.7">18</text><text x="426" y="673.7">207.4 [8.165]</text><text x="500" y="673.7">190.4 [7.496]</text>
<text x="121" y="692.3">9</text><text x="200" y="692.3">115.6 [4.551]</text><text x="274" y="692.3">98.6 [3.882]</text><text x="350" y="692.3">19</text><text x="426" y="692.3">217.6 [8.567]</text><text x="500" y="692.3">200.6 [7.898]</text>
<text x="121" y="710.9">10</text><text x="200" y="710.9">125.8 [4.953]</text><text x="274" y="710.9">108.8 [4.283]</text><text x="350" y="710.9">20</text><text x="426" y="710.9">227.8 [8.969]</text><text x="500" y="710.9">210.8 [8.299]</text>
<text x="121" y="729.5">11</text><text x="194" y="729.5">136 [5.354]</text><text x="268" y="729.5">119 [4.685]</text><text x="350" y="729.5">—</text><text x="426" y="729.5">—</text><text x="500" y="729.5">—</text>
</g>
</g>

<text x="79" y="1493" font-size="13">For optional wiring, see p.132.</text>
<text x="80" y="1537" font-size="19">139</text>
</svg>
</body></html>
